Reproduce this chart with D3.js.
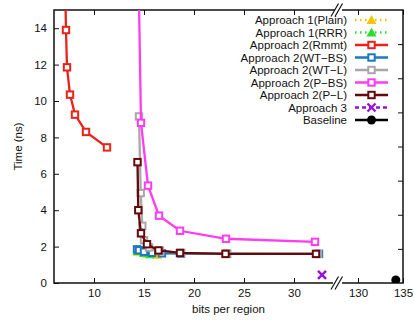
<!DOCTYPE html>
<html>
<head>
<meta charset="utf-8">
<script src="https://cdn.jsdelivr.net/npm/d3@7"></script>
<style>
  body { margin: 0; background: #fff; }
  svg text { font-family: "Liberation Sans", Arial, Helvetica, sans-serif; fill: #111; }
</style>
</head>
<body>
<div id="chart"></div>
<script>
// data
const plainX = [14.4, 15.3, 16.3];
const plainY = [1.72, 1.62, 1.55];
const rrrX = [14.35, 15.0, 15.6];
const rrrY = [1.76, 1.65, 1.58];
const rmmtX = [7.0, 7.2, 7.3, 7.6, 8.1, 9.2, 11.3];
const rmmtY = [19.5, 13.9, 11.85, 10.35, 9.25, 8.3, 7.45];
const wtbsX = [14.3, 14.5, 15.0, 15.8, 16.8, 18.7, 23.3, 32.5];
const wtbsY = [1.85, 1.8, 1.72, 1.66, 1.63, 1.62, 1.6, 1.6];
const wtlX = [14.5, 14.67, 14.83, 15.0, 15.5, 16.6, 18.7, 23.3, 32.4];
const wtlY = [9.15, 4.94, 3.14, 2.35, 1.95, 1.76, 1.66, 1.62, 1.6];
const pbsX = [14.45, 14.7, 15.4, 16.5, 18.6, 23.2, 32.1];
const pbsY = [17, 8.8, 5.35, 3.7, 2.87, 2.43, 2.26];
const plX = [14.35, 14.43, 14.7, 15.3, 16.45, 18.6, 23.15, 32.2];
const plY = [6.64, 4.0, 2.73, 2.13, 1.79, 1.65, 1.6, 1.6];
const appr3X = [32.8];
const appr3Y = [0.45];
const baseX = [134.2];
const baseY = [0.17];

const xTicks = [10, 15, 20, 25, 30, 130, 135];
const yTicks = [0, 2, 4, 6, 8, 10, 12, 14];

const series = [
  { name: "Approach 1(Plain)", xs: plainX, ys: plainY, color: "#f2c500", dash: "1.5,3.5", mark: "tri" },
  { name: "Approach 1(RRR)", xs: rrrX, ys: rrrY, color: "#2edc2e", dash: "1.5,3.5", mark: "tri" },
  { name: "Approach 2(Rmmt)", xs: rmmtX, ys: rmmtY, color: "#e8231a", dash: null, mark: "sq" },
  { name: "Approach 2(WT\u2212BS)", xs: wtbsX, ys: wtbsY, color: "#1c79bd", dash: null, mark: "sq" },
  { name: "Approach 2(WT\u2212L)", xs: wtlX, ys: wtlY, color: "#aaa6aa", dash: null, mark: "sq" },
  { name: "Approach 2(P\u2212BS)", xs: pbsX, ys: pbsY, color: "#ff3cf0", dash: null, mark: "sq" },
  { name: "Approach 2(P\u2212L)", xs: plX, ys: plY, color: "#650a0a", dash: null, mark: "sq" },
  { name: "Approach 3", xs: appr3X, ys: appr3Y, color: "#9a12d8", dash: "4,3", mark: "x" },
  { name: "Baseline", xs: baseX, ys: baseY, color: "#000000", dash: null, mark: "dot" }
];

const W = 414, H = 320;
const mL = 54, mR = 403, mT = 10, mB = 283;

const svg = d3.select("#chart").append("svg")
  .attr("width", W).attr("height", H);

// broken x axis: 6..34.2 then 128..135
const x = d3.scaleLinear().domain([6, 34.2, 128, 135]).range([mL, 336, 340, mR]);
const y = d3.scaleLinear().domain([0, 15]).range([mB, mT]);
const y2 = d3.scaleLinear().domain([0, 16]).range([mB, mT]);

svg.append("defs").append("clipPath").attr("id", "clip")
  .append("rect").attr("x", mL).attr("y", mT)
  .attr("width", mR - mL).attr("height", mB - mT);

// axes with inward ticks
const gx = svg.append("g").attr("transform", `translate(0,${mB})`)
  .call(d3.axisBottom(x).tickValues(xTicks).tickSize(-5).tickPadding(6));
const gxt = svg.append("g").attr("transform", `translate(0,${mT})`)
  .call(d3.axisTop(x).tickValues(xTicks).tickSize(-5).tickFormat(""));
const gy = svg.append("g").attr("transform", `translate(${mL},0)`)
  .call(d3.axisLeft(y).tickValues(yTicks).tickSize(-5).tickPadding(7));
const gy2 = svg.append("g").attr("transform", `translate(${mR},0)`)
  .call(d3.axisRight(y2).ticks(8).tickSize(-5).tickFormat(""));
[gx, gxt, gy, gy2].forEach(g => {
  g.select(".domain").remove();
  g.selectAll("line").attr("stroke", "#111").attr("stroke-width", 1);
  g.selectAll("text").style("font-size", "11.5px").attr("fill", "#111");
});
gy2.selectAll(".tick").filter(d => d === 0 || d === 16).remove();

// frame with gaps at the break
const brk = x(34.2);
const frame = svg.append("g").attr("stroke", "#111").attr("stroke-width", 1.5).attr("fill", "none");
frame.append("path").attr("d", `M${brk - 1},${mT}H${mL}V${mB}H${brk - 3}`);
frame.append("path").attr("d", `M${brk + 6},${mT}H${mR}V${mB}H${brk + 6}`);
[mB, mT].forEach(yy => {
  [0, 4].forEach(dx => {
    frame.append("line")
      .attr("x1", brk - 5 + dx).attr("y1", yy + 6.5)
      .attr("x2", brk + 2.5 + dx).attr("y2", yy - 6.5)
      .attr("stroke-width", 1.2);
  });
});

const plot = svg.append("g").attr("clip-path", "url(#clip)");
const line = d3.line().x(d => x(d[0])).y(d => y(d[1]));

function marker(g, kind, color, px, py) {
  if (kind === "sq") {
    g.append("rect").attr("x", px - 3.2).attr("y", py - 3.2).attr("width", 6.4).attr("height", 6.4)
      .attr("fill", "#fff").attr("stroke", color).attr("stroke-width", 2);
  } else if (kind === "tri") {
    g.append("path").attr("d", `M${px},${py - 5}L${px + 5},${py + 4}L${px - 5},${py + 4}Z`)
      .attr("fill", color);
  } else if (kind === "x") {
    g.append("path").attr("d", `M${px - 4},${py - 4}L${px + 4},${py + 4}M${px - 4},${py + 4}L${px + 4},${py - 4}`)
      .attr("stroke", color).attr("stroke-width", 2.4);
  } else {
    g.append("circle").attr("cx", px).attr("cy", py).attr("r", 4.5).attr("fill", color);
  }
}

series.forEach(s => {
  const pts = s.xs.map((v, i) => [v, s.ys[i]]);
  const g = plot.append("g");
  if (pts.length > 1) {
    g.append("path").datum(pts).attr("d", line)
      .attr("fill", "none").attr("stroke", s.color).attr("stroke-width", 2.3)
      .attr("stroke-dasharray", s.dash);
  }
  pts.forEach(p => marker(g, s.mark, s.color, x(p[0]), y(p[1])));
});

// legend
const leg = svg.append("g");
series.forEach((s, i) => {
  const cy = 20 + i * 12.5;
  leg.append("text").attr("x", 347).attr("y", cy + 4).attr("text-anchor", "end")
    .style("font-size", "11.5px").text(s.name);
  leg.append("line").attr("x1", 355).attr("x2", 388).attr("y1", cy).attr("y2", cy)
    .attr("stroke", s.color).attr("stroke-width", 2.5).attr("stroke-dasharray", s.dash);
  marker(leg, s.mark, s.color, 371.5, cy);
});

// axis titles
svg.append("text").attr("x", (mL + mR) / 2).attr("y", 313)
  .attr("text-anchor", "middle").style("font-size", "11.5px").text("bits per region");
svg.append("text").attr("transform", `translate(22,${(mT + mB) / 2}) rotate(-90)`)
  .attr("text-anchor", "middle").style("font-size", "11.5px").text("Time (ns)");
</script>
</body>
</html>
